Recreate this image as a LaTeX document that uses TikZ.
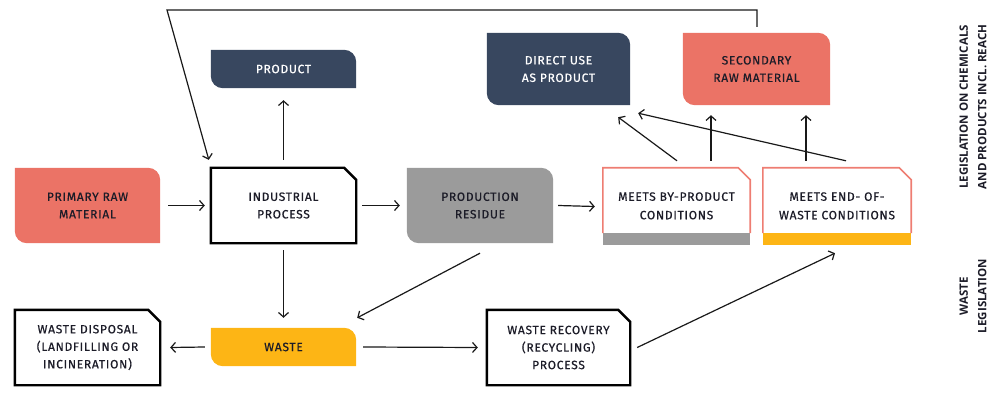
\documentclass[tikz,border=0pt]{standalone}
\usepackage{fontspec}
\setmainfont{Fira Sans}[LetterSpace=6,FakeBold=0.6]
\newfontfamily\labfont{Open Sans}
\usetikzlibrary{arrows.meta,backgrounds}
\definecolor{cred}{HTML}{EB7366}
\definecolor{cnavy}{HTML}{38475F}
\definecolor{cgray}{HTML}{9B9B9B}
\definecolor{cyel}{HTML}{FDB515}
\definecolor{cbord}{HTML}{EE7D72}
\definecolor{ctext}{HTML}{1C1C28}
\newcommand\leafbg[2]{\fill[#2] ([yshift=12]#1.south west) -- (#1.north west) -- ([xshift=-12]#1.north east) arc[start angle=90,end angle=0,radius=12] -- (#1.south east) -- ([xshift=12]#1.south west) arc[start angle=270,end angle=180,radius=12] -- cycle;}
\newcommand\cutbox[3]{\draw[#2,line width=#3,line join=miter] (#1.south west) -- (#1.north west) -- ([xshift=-12]#1.north east) -- ([yshift=-12]#1.north east) -- (#1.south east) -- cycle;}
\begin{document}
\begin{tikzpicture}[x=1pt,y=1pt,
  box/.style={minimum width=145pt,minimum height=75pt,inner sep=0pt,align=center,text=ctext,
    font=\fontsize{12}{17.5}\selectfont},
  arr/.style={-{Straight Barb[length=4.5pt,width=10pt]},line width=1.2pt,draw=black!90}]
\useasboundingbox (0,0) rectangle (994,405);
% nodes
\node[box] (prim) at (87.5,199.5) {PRIMARY RAW\\MATERIAL};
\node[box] (ind) at (283.5,199.5) {INDUSTRIAL\\PROCESS};
\node[box,minimum width=146pt] (res) at (480,199.5) {PRODUCTION\\RESIDUE};
\node[box,minimum width=147pt,minimum height=77pt] (byp) at (676.5,198.5) {\raisebox{3pt}{\begin{tabular}{@{}c@{}}MEETS BY-PRODUCT\\[1pt]CONDITIONS\end{tabular}}};
\node[box,minimum width=148pt,minimum height=77pt] (eow) at (837,198.5) {\raisebox{3pt}{\begin{tabular}{@{}c@{}}MEETS END- OF-\\[1pt]WASTE CONDITIONS\end{tabular}}};
\node[box,minimum height=38pt,text=white] (prod) at (283.5,336) {PRODUCT};
\node[box,minimum width=143pt,minimum height=72pt,text=white] (dir) at (558.5,336) {DIRECT USE\\AS PRODUCT};
\node[box,minimum width=147pt,minimum height=72pt] (sec) at (756.5,336) {SECONDARY\\RAW MATERIAL};
\node[box,minimum height=38pt] (waste) at (283.5,58) {WASTE};
\node[box] (disp) at (87.5,57.5) {WASTE DISPOSAL\\(LANDFILLING OR\\INCINERATION)};
\node[box,minimum width=143pt] (rec) at (558.5,57.5) {WASTE RECOVERY\\(RECYCLING)\\PROCESS};
% backgrounds
\begin{scope}[on background layer]
\leafbg{prim}{cred}
\leafbg{res}{cgray}
\leafbg{prod}{cnavy}
\leafbg{dir}{cnavy}
\leafbg{sec}{cred}
\leafbg{waste}{cyel}
\fill[cgray] (byp.south west) rectangle ([yshift=12]byp.south east);
\fill[cyel] (eow.south west) rectangle ([yshift=12]eow.south east);
\end{scope}
\cutbox{ind}{black}{2.4pt}
\cutbox{disp}{black}{2.4pt}
\cutbox{rec}{black}{2.4pt}
\draw[cbord,line width=1.6pt] ([yshift=12]byp.south west) -- (byp.north west) -- ([xshift=-12]byp.north east) -- ([yshift=-12]byp.north east) -- ([yshift=12]byp.south east);
\draw[cbord,line width=1.6pt] ([yshift=12]eow.south west) -- (eow.north west) -- ([xshift=-12]eow.north east) -- ([yshift=-12]eow.north east) -- ([yshift=12]eow.south east);
% side labels
\node[rotate=90,align=center,font=\labfont\bfseries\fontsize{11.5}{18.5}\selectfont,text=ctext] (lab1) at (973,298) {LEGISLATION ON CHEMICALS\\AND PRODUCTS INCL. REACH};
\node[rotate=90,align=center,font=\labfont\bfseries\fontsize{11.5}{18.5}\selectfont,text=ctext] (lab2) at (973,109) {WASTE\\LEGISLATION};
% arrows
\draw[arr] ([xshift=8]prim.east) -- ([xshift=-6]ind.west);
\draw[arr] ([xshift=6]ind.east) -- ([xshift=-7]res.west);
\draw[arr] ([xshift=5]res.east) -- ([xshift=-8]byp.west);
\draw[arr] ([yshift=8]ind.north) -- ([yshift=-12]prod.south);
\draw[arr] ([yshift=-7]ind.south) -- ([yshift=10]waste.north);
\draw[arr] ([yshift=-10]res.south) -- ([xshift=1,yshift=10]waste.north east);
\draw[arr] ([xshift=-6]waste.west) -- ([xshift=10]disp.east);
\draw[arr] ([xshift=7]waste.east) -- ([xshift=-9]rec.west);
\draw[arr] ([xshift=7]rec.east) -- ([xshift=-2,yshift=-8]eow.south);
\draw[arr] ([xshift=0.5,yshift=7]byp.north) -- ([xshift=-12,yshift=-12]dir.south east);
\draw[arr] ([xshift=34.5,yshift=7]byp.north) -- ([xshift=-45.5,yshift=-10]sec.south);
\draw[arr] ([xshift=-31,yshift=7]eow.north) -- ([xshift=49.5,yshift=-10]sec.south);
\draw[arr] ([xshift=9,yshift=7]eow.north) -- ([xshift=8,yshift=-8]dir.south east);
\coordinate (fb) at (167,395);
\draw[arr] ([xshift=0.5,yshift=6]sec.north) |- (fb) -- ([xshift=-2,yshift=8]ind.north west);
\end{tikzpicture}
\end{document}
